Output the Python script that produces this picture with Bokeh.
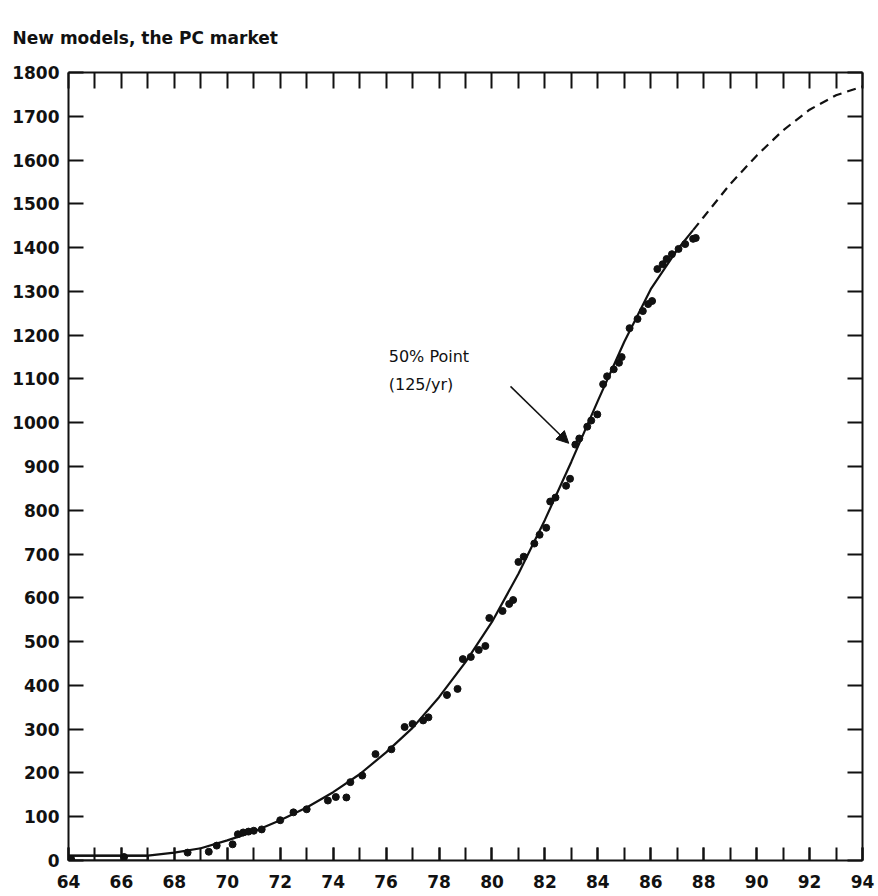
from bokeh.plotting import figure
from bokeh.models import (Range1d, FixedTicker, LinearAxis, Label, Arrow, NormalHead)
from bokeh.embed import file_html
from bokeh.resources import INLINE

# ---- data ----
dot_years = [64.1, 66.1, 68.5, 69.3, 69.6, 70.2, 70.4, 70.6, 70.8, 71.0, 71.3, 72.0, 72.5,
             73.0, 73.8, 74.1, 74.5, 74.65, 75.1, 75.6, 76.2, 76.7, 77.0, 77.4, 77.6, 78.3,
             78.7, 78.9, 79.2, 79.5, 79.75, 79.9, 80.4, 80.65, 80.8, 81.0, 81.2, 81.6, 81.8,
             82.05, 82.2, 82.4, 82.8, 82.95, 83.15, 83.3, 83.6, 83.75, 83.98, 84.2, 84.35,
             84.6, 84.8, 84.9, 85.2, 85.5, 85.7, 85.9, 86.05, 86.25, 86.45, 86.6, 86.8,
             87.05, 87.3, 87.6, 87.7]
dot_models = [3, 8, 18, 20, 34, 37, 60, 64, 66, 68, 71, 92, 110,
              117, 137, 145, 144, 179, 194, 243, 254, 305, 312, 320, 327, 378,
              392, 460, 465, 481, 490, 554, 570, 586, 595, 682, 694, 724, 744,
              760, 820, 829, 856, 872, 950, 964, 991, 1005, 1019, 1088, 1106,
              1122, 1137, 1150, 1216, 1237, 1255, 1271, 1278, 1351, 1362, 1374, 1385,
              1397, 1408, 1420, 1422]

curve_years = [64, 67, 68, 69, 70, 71, 72, 73, 74, 75, 76, 77, 78, 79, 80, 81, 82, 83,
               84, 85, 86, 87, 87.6]
curve_models = [11, 11, 18, 28, 46, 66, 92, 121, 156, 197, 247, 303, 373, 453, 545, 655,
                778, 911, 1050, 1185, 1305, 1395, 1440]

forecast_years = [87.6, 88, 89, 90, 91, 92, 93, 94]
forecast_models = [1440, 1470, 1545, 1610, 1668, 1715, 1748, 1768]

early_box = dict(left=[64], right=[67], bottom=[0], top=[11])

x_labels_years = list(range(64, 95, 2))
all_years = list(range(64, 95))
y_ticks = list(range(0, 1801, 100))

title_text = "New models, the PC market"
note_line1 = "50% Point"
note_line2 = "(125/yr)"
note_pos = (76.1, 1152, 1088)
arrow_start = (80.7, 1083)
arrow_end = (82.9, 953)

FONT = "DejaVu Sans"
INK = "#111111"

p = figure(width=878, height=896, output_backend="svg", toolbar_location=None,
           x_range=Range1d(64, 94), y_range=Range1d(0, 1800),
           x_axis_location=None, y_axis_location=None,
           min_border_left=68, min_border_right=16, min_border_top=72, min_border_bottom=36)
p.grid.visible = False
p.outline_line_color = None
p.background_fill_color = "white"
p.border_fill_color = "white"

def style_axis(ax, tick_len, minor_len=0):
    ax.axis_line_color = INK
    ax.axis_line_width = 2
    ax.major_tick_line_color = INK
    ax.major_tick_line_width = 2
    ax.major_tick_in = tick_len
    ax.major_tick_out = 0
    ax.minor_tick_line_color = INK
    ax.minor_tick_line_width = 2
    ax.minor_tick_in = minor_len
    ax.minor_tick_out = 0
    ax.major_label_text_font = FONT
    ax.major_label_text_font_style = "bold"
    ax.major_label_text_color = INK
    ax.major_label_text_font_size = "17px"

# title
p.title.text = title_text
p.title.align = "left"
p.title.offset = -56
p.title.standoff = 49
p.title.text_font = FONT
p.title.text_font_style = "bold"
p.title.text_font_size = "17px"
p.title.text_color = INK

# bottom axis: labels on even years, ticks every year
bottom = LinearAxis(ticker=FixedTicker(ticks=x_labels_years, minor_ticks=all_years))
style_axis(bottom, 13, 13)
bottom.major_label_standoff = 14
p.add_layout(bottom, "below")

# top axis: ticks every year, no labels
top = LinearAxis(ticker=FixedTicker(ticks=all_years, minor_ticks=[]))
style_axis(top, 16)
top.major_label_standoff = 0
top.major_label_overrides = {y: "" for y in all_years}
p.add_layout(top, "above")

# left axis
left = LinearAxis(ticker=FixedTicker(ticks=y_ticks, minor_ticks=[]))
style_axis(left, 15)
left.major_label_standoff = 9
p.add_layout(left, "left")

# right axis: ticks, no labels
right = LinearAxis(ticker=FixedTicker(ticks=y_ticks, minor_ticks=[]))
style_axis(right, 15)
right.major_label_overrides = {y: "" for y in y_ticks}
p.add_layout(right, "right")

# early-years box
p.quad(left=early_box["left"], right=early_box["right"], bottom=early_box["bottom"],
       top=early_box["top"], fill_color=None, line_color=INK, line_width=2)

# fitted curve and forecast
p.line(curve_years, curve_models, line_color=INK, line_width=2.2)
p.line(forecast_years, forecast_models, line_color=INK, line_width=2.2, line_dash="9 6")

# data points
p.scatter(dot_years, dot_models, size=7, fill_color=INK, line_color=INK)

# annotation
p.add_layout(Label(x=note_pos[0], y=note_pos[1], text=note_line1, text_font=FONT,
                   text_font_size="16px", text_color=INK, text_baseline="middle"))
p.add_layout(Label(x=note_pos[0], y=note_pos[2], text=note_line2, text_font=FONT,
                   text_font_size="16px", text_color=INK, text_baseline="middle"))
p.add_layout(Arrow(x_start=arrow_start[0], y_start=arrow_start[1],
                   x_end=arrow_end[0], y_end=arrow_end[1], line_color=INK, line_width=1.5,
                   end=NormalHead(size=12, fill_color=INK, line_color=INK)))

open("out.html", "w").write(file_html(p, INLINE))
